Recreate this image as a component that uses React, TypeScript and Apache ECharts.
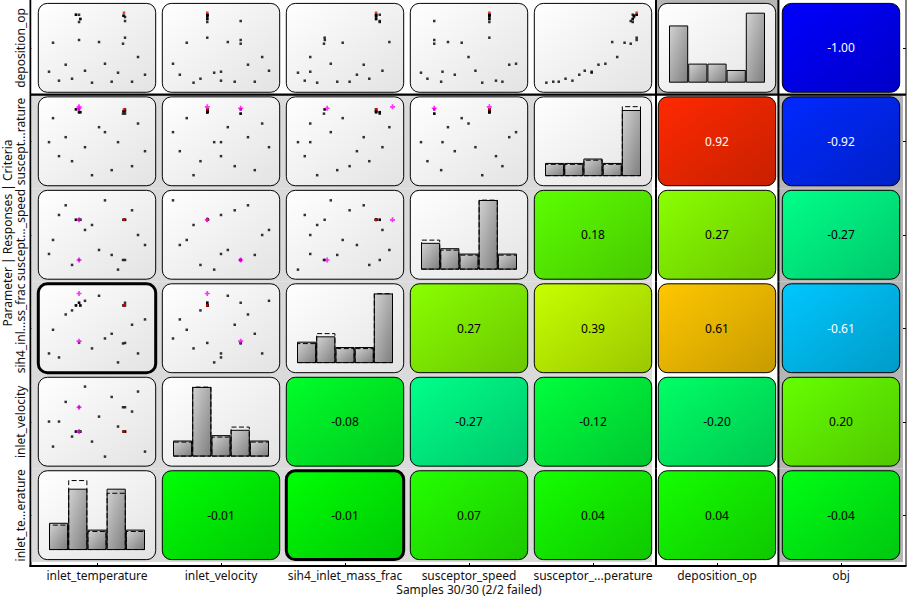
import React, { useEffect, useRef } from 'react';
import * as echarts from 'echarts';

// ---------------- data ----------------
const variableNames = ['inlet_temperature', 'inlet_velocity', 'sih4_inlet_mass_frac', 'susceptor_speed', 'susceptor_temperature', 'deposition_op'];
const columnLabels = ['inlet_temperature', 'inlet_velocity', 'sih4_inlet_mass_frac', 'susceptor_speed', 'susceptor_...perature', 'deposition_op', 'obj'];
const rowLabels = ['inlet_te...erature', 'inlet_velocity', 'sih4_inl...ss_frac', 'suscept..._speed', 'suscept...rature', 'deposition_op']; // bottom -> top
const columnBlocks = ['parameter', 'parameter', 'parameter', 'parameter', 'parameter', 'response', 'criterion'];
const rowBlocks = ['parameter', 'parameter', 'parameter', 'parameter', 'parameter', 'response'];
const xAxisTitle = 'Samples 30/30 (2/2 failed)';
const yAxisTitle = 'Parameter | Responses | Criteria';
const highlightedPair = ['inlet_temperature', 'sih4_inlet_mass_frac'];

// samples, normalised to each variable's axis range (0..1)
const sampleStatus = [
  'ok', 'ok', 'ok', 'ok', 'ok', 'ok', 'ok', 'ok', 'ok', 'ok', 'ok', 'ok', 'ok', 'ok',
  'best', 'ok', 'ok', 'ok', 'ok', 'ok', 'ok', 'ok', 'ok', 'ok', 'ok', 'ok', 'ok', 'ok',
  'failed', 'failed',
];
const inletTemperature = [0.000, 0.042, 0.104, 0.174, 0.240, 0.375, 0.448, 0.521, 0.583, 0.653, 0.719, 0.865, 0.927, 1.000,
  0.781, 0.774, 0.792, 0.792, 0.792, 0.771, 0.281, 0.313, 0.326, 0.313, 0.313, 0.281, 0.326, 0.781, 0.313, 0.313];
const inletVelocity = [0.500, 0.143, 0.500, 0.781, 0.286, 1.000, 0.214, 0.571, 0.000, 0.852, 0.429, 0.643, 0.929, 0.071,
  0.357, 0.357, 0.357, 0.705, 0.357, 0.705, 0.357, 0.357, 0.357, 0.357, 0.705, 0.357, 0.357, 0.357, 0.357, 0.705];
const sih4InletMassFrac = [0.138, 0.476, 0.081, 0.695, 0.753, 0.890, 0.210, 0.962, 0.352, 0.419, 0.010, 0.548, 0.138, 0.624,
  0.824, 0.824, 0.824, 0.862, 0.288, 0.281, 0.824, 0.862, 0.824, 0.862, 0.290, 0.824, 0.824, 0.824, 0.995, 0.314];
const susceptorSpeed = [0.224, 0.424, 0.781, 0.919, 0.067, 0.567, 0.638, 0.281, 0.990, 0.210, 0.000, 0.848, 0.495, 0.352,
  0.712, 0.712, 0.712, 0.138, 0.712, 0.138, 0.712, 0.712, 0.712, 0.712, 0.138, 0.712, 0.712, 0.712, 0.712, 0.138];
const susceptorTemperature = [0.486, 0.829, 0.286, 0.557, 0.214, 0.414, 0.014, 0.700, 0.629, 0.086, 0.486, 0.143, 0.752, 0.357,
  0.955, 0.927, 0.927, 0.893, 0.955, 0.893, 0.955, 0.914, 0.914, 0.914, 0.955, 0.955, 0.914, 0.927, 0.990, 0.970];
const depositionOp = [0.157, 0.571, 0.029, 0.257, 0.057, 0.171, 0.000, 0.581, 0.271, 0.014, 0.143, 0.014, 0.367, 0.114,
  1.000, 0.957, 0.938, 0.881, 0.643, 0.557, 0.971, 0.971, 0.910, 0.867, 0.610, 0.971, 0.910, 0.957, null, null];

// histogram counts (5 bins): successful samples / all samples
const histSuccessful = [
  [4, 9, 3, 9, 3],
  [3, 13, 4, 5, 3],
  [4, 5, 3, 3, 13],
  [5, 4, 3, 13, 3],
  [3, 3, 4, 3, 15],
  [9, 3, 3, 2, 11],
];
const histAll = [
  [4, 11, 3, 9, 3],
  [3, 14, 4, 6, 3],
  [4, 6, 3, 3, 14],
  [6, 4, 3, 14, 3],
  [3, 3, 4, 3, 17],
  null,
];

// correlation coefficients: row variable x column (null = not a correlation cell)
const correlation = [
  [null, -0.01, -0.01, 0.07, 0.04, 0.04, -0.04],
  [null, null, -0.08, -0.27, -0.12, -0.20, 0.20],
  [null, null, null, 0.27, 0.39, 0.61, -0.61],
  [null, null, null, null, 0.18, 0.27, -0.27],
  [null, null, null, null, null, 0.92, -0.92],
  [null, null, null, null, null, null, -1.00],
];

// ---------------- layout ----------------
const FONT = '"Noto Sans", "Open Sans", sans-serif';
const GRID_LEFT = 35;
const GRID_TOP = 1.2;
const COL_W = 124;
const ROW_H = 93.47;
const NCOL = 7;
const NROW = 6;
const PLOT_INSET_X = 14;
const PLOT_INSET_TOP = 11.5;
const PLOT_W = 96;
const PLOT_H = 70;

const sampleValues = [inletTemperature, inletVelocity, sih4InletMassFrac, susceptorSpeed, susceptorTemperature, depositionOp];

function hsvColor(h: number, f: number) {
  const hh = ((h % 360) + 360) % 360 / 60;
  const x = 1 - Math.abs((hh % 2) - 1);
  let r = 0, g = 0, b = 0;
  if (hh < 1) { r = 1; g = x; } else if (hh < 2) { r = x; g = 1; } else if (hh < 3) { g = 1; b = x; }
  else if (hh < 4) { g = x; b = 1; } else if (hh < 5) { r = x; b = 1; } else { r = 1; b = x; }
  return [Math.round(r * 255 * f), Math.round(g * 255 * f), Math.round(b * 255 * f)];
}
const rgb = (c: number[]) => `rgb(${c[0]},${c[1]},${c[2]})`;

function corrStyle(v: number) {
  const hue = 120 - 120 * v;
  const top = hsvColor(hue, 1);
  const bottom = hsvColor(hue, 0.78);
  const lum = 0.299 * top[0] + 0.587 * top[1] + 0.114 * top[2];
  return {
    fill: new echarts.graphic.LinearGradient(0, 0, 1, 1, [
      { offset: 0, color: rgb(top) },
      { offset: 1, color: rgb(bottom) },
    ]),
    text: lum < 150 ? '#ffffff' : '#000000',
  };
}

function blockBg(rowBlock: string, colBlock: string) {
  if (rowBlock === 'parameter') {
    if (colBlock === 'parameter') return '#dadada';
    if (colBlock === 'response') return '#ffffff';
    return '#b5b5b5';
  }
  if (colBlock === 'response') return '#b5b5b5';
  return '#ffffff';
}

function buildOption() {
  type Cell = { row: number; col: number; kind: string; r: number | null; highlighted: boolean };
  const cells: Cell[] = [];
  for (let i = 0; i < NROW; i++) {
    for (let j = 0; j < NCOL; j++) {
      const kind = j < i ? 'scatter' : j === i ? 'hist' : 'corr';
      const rowName = variableNames[i];
      const colName = variableNames[j];
      const highlighted =
        (rowName === highlightedPair[0] && colName === highlightedPair[1]) ||
        (rowName === highlightedPair[1] && colName === highlightedPair[0]);
      cells.push({ row: i, col: j, kind, r: correlation[i][j], highlighted });
    }
  }

  const grids: any[] = [{
    left: GRID_LEFT, top: GRID_TOP, width: COL_W * NCOL, height: ROW_H * NROW,
    containLabel: false, outerBoundsMode: 'none',
  }];
  const xAxes: any[] = [{
    type: 'category', gridIndex: 0, data: columnLabels, position: 'bottom', offset: 4,
    axisLine: { show: false },
    axisTick: { show: true, alignWithLabel: true, inside: true, length: 3, interval: 0, lineStyle: { color: '#000', width: 1 } },
    axisLabel: { interval: 0, margin: 3, fontSize: 12, lineHeight: 12, color: '#111', fontFamily: FONT },
    splitLine: { show: false },
    name: xAxisTitle, nameLocation: 'middle', nameGap: 17.5, nameMoveOverlap: false,
    nameTextStyle: { fontSize: 12, lineHeight: 12, color: '#111', fontFamily: FONT },
  }];
  const yAxes: any[] = [
    {
      type: 'category', gridIndex: 0, data: rowLabels, position: 'left', offset: 4.5,
      axisLine: { show: false },
      axisTick: { show: true, alignWithLabel: true, inside: true, length: 3, interval: 0, lineStyle: { color: '#000', width: 1 } },
      axisLabel: { interval: 0, rotate: 90, margin: 3, fontSize: 12, lineHeight: 14, color: '#111', fontFamily: FONT },
      splitLine: { show: false },
    },
    {
      type: 'category', gridIndex: 0, data: rowLabels, position: 'right', offset: 3,
      axisLine: { show: false },
      axisTick: { show: true, alignWithLabel: true, inside: true, length: 4, interval: 0, lineStyle: { color: '#000', width: 1 } },
      axisLabel: { show: false },
      splitLine: { show: false },
    },
  ];

  const series: any[] = [];

  // cell backgrounds, dividers, panels, correlation values
  series.push({
    type: 'custom',
    coordinateSystem: 'cartesian2d',
    xAxisIndex: 0,
    yAxisIndex: 0,
    z: 1,
    silent: true,
    clip: false,
    encode: { x: 0, y: 1 },
    data: cells.map((c) => [c.col, c.row]),
    renderItem: (params: any, api: any) => {
      const cell = cells[params.dataIndex];
      const center = api.coord([api.value(0), api.value(1)]);
      const size = api.size([1, 1]);
      const w = size[0], h = size[1];
      const x0 = center[0] - w / 2, y0 = center[1] - h / 2;
      const rb = rowBlocks[cell.row], cb = columnBlocks[cell.col];
      const children: any[] = [];

      let bx = x0, bw = w, by = y0, bh = h;
      if (cell.col === 0) { bx -= 3.5; bw += 3.5; }
      if (rb === 'parameter' && cb === 'parameter' && columnBlocks[cell.col + 1] !== 'parameter') bw -= 3;
      if (cell.row === NROW - 1) { by -= GRID_TOP; bh += GRID_TOP; }
      children.push({ type: 'rect', z2: 0, shape: { x: bx, y: by, width: bw, height: bh }, style: { fill: blockBg(rb, cb) } });

      if (cell.col > 0 && columnBlocks[cell.col - 1] !== cb) {
        const lx = cb === 'response' ? x0 + 1 : x0 - 0.6;
        const ly1 = cell.row === NROW - 1 ? y0 - GRID_TOP : y0;
        const ly2 = cell.row === 0 ? y0 + h + 3.5 : y0 + h;
        children.push({ type: 'line', z2: 6, shape: { x1: lx, y1: ly1, x2: lx, y2: ly2 }, style: { stroke: '#000', lineWidth: 2 } });
      }
      if (cell.row > 0 && rowBlocks[cell.row - 1] !== rb) {
        const ly = y0 + h;
        const lx1 = cell.col === 0 ? x0 - 4.5 : x0;
        const lx2 = cell.col === NCOL - 1 ? x0 + w + 3 : x0 + w;
        children.push({ type: 'line', z2: 6, shape: { x1: lx1, y1: ly, x2: lx2, y2: ly }, style: { stroke: '#000', lineWidth: 2.4 } });
      }

      const px = x0 + 3.3, py = y0 + 2.2, pw = w - 6.6, ph = h - 4.6;
      let fill: any;
      let textColor = '#000';
      if (cell.kind === 'corr' && cell.r !== null) {
        const s = corrStyle(cell.r);
        fill = s.fill;
        textColor = s.text;
      } else {
        fill = new echarts.graphic.LinearGradient(0, 0, 1, 1, [
          { offset: 0, color: '#ffffff' },
          { offset: 1, color: '#e3e3e3' },
        ]);
      }
      children.push({
        type: 'rect', z2: 3,
        shape: { x: px, y: py, width: pw, height: ph, r: 9 },
        style: { fill, stroke: '#000', lineWidth: cell.highlighted ? 3 : 1 },
      });
      if (cell.kind === 'corr' && cell.r !== null) {
        children.push({
          type: 'text', z2: 4,
          style: {
            text: cell.r.toFixed(2), x: center[0], y: center[1],
            align: 'center', verticalAlign: 'middle',
            fill: textColor, font: `12px ${FONT}`,
          },
        });
      }
      return { type: 'group', children };
    },
  });

  // scatter and histogram cells, each with its own grid and axes
  const plus = 'path://M2,0H4V2H6V4H4V6H2V4H0V2H2Z';
  let g = 0;
  cells.forEach((cell) => {
    if (cell.kind === 'corr') return;
    g += 1;
    const x0 = GRID_LEFT + cell.col * COL_W;
    const y0 = GRID_TOP + (NROW - 1 - cell.row) * ROW_H;
    grids.push({
      left: x0 + PLOT_INSET_X, top: y0 + PLOT_INSET_TOP, width: PLOT_W, height: PLOT_H,
      containLabel: false, outerBoundsMode: 'none',
    });
    const yIdx = g + 1;
    if (cell.kind === 'scatter') {
      xAxes.push({ type: 'value', gridIndex: g, min: 0, max: 1, show: false });
      yAxes.push({ type: 'value', gridIndex: g, min: 0, max: 1, show: false });
      const xs = sampleValues[cell.col];
      const ys = sampleValues[cell.row];
      const pick = (status: string) => {
        const out: number[][] = [];
        sampleStatus.forEach((st, k) => {
          if (st === status && xs[k] !== null && ys[k] !== null) out.push([xs[k] as number, ys[k] as number]);
        });
        return out;
      };
      series.push({
        type: 'scatter', xAxisIndex: g, yAxisIndex: yIdx, silent: true, clip: false,
        symbol: 'rect', symbolSize: 2.5, itemStyle: { color: '#000' }, data: pick('ok'),
      });
      series.push({
        type: 'scatter', xAxisIndex: g, yAxisIndex: yIdx, silent: true, clip: false,
        symbol: 'rect', symbolSize: 2.5, itemStyle: { color: '#ff0000' }, data: pick('best'),
      });
      series.push({
        type: 'scatter', xAxisIndex: g, yAxisIndex: yIdx, silent: true, clip: false,
        symbol: plus, symbolSize: 5, itemStyle: { color: '#ff00ff' }, data: pick('failed'),
      });
    } else {
      const ok = histSuccessful[cell.row];
      const all = histAll[cell.row];
      const okTotal = ok.reduce((a, b) => a + b, 0);
      const scaled = all ? all.map((v) => (v * okTotal) / all.reduce((a, b) => a + b, 0)) : null;
      const hmax = Math.max(...ok, ...(scaled || [0]));
      xAxes.push({ type: 'category', gridIndex: g, data: ['1', '2', '3', '4', '5'], show: false, boundaryGap: true });
      yAxes.push({ type: 'value', gridIndex: g, min: 0, max: hmax, show: false });
      series.push({
        type: 'bar', xAxisIndex: g, yAxisIndex: yIdx, silent: true,
        barCategoryGap: '0%', barGap: '-100%',
        itemStyle: {
          color: new echarts.graphic.LinearGradient(0, 0, 1, 1, [
            { offset: 0, color: '#d2d2d2' },
            { offset: 1, color: '#7e7e7e' },
          ]),
          borderColor: '#000', borderWidth: 1,
        },
        data: ok,
      });
      if (scaled) {
        series.push({
          type: 'bar', xAxisIndex: g, yAxisIndex: yIdx, silent: true,
          barCategoryGap: '0%', barGap: '-100%',
          itemStyle: { color: 'rgba(0,0,0,0)', borderColor: '#000', borderWidth: 1, borderType: [5, 2.5] },
          data: scaled,
        });
      }
    }
  });

  const frameLeft = GRID_LEFT - 4.5;
  const frameBottom = GRID_TOP + ROW_H * NROW + 4;
  const frameRight = GRID_LEFT + COL_W * NCOL + 3;

  return {
    animation: false,
    textStyle: { fontFamily: FONT },
    grid: grids,
    xAxis: xAxes,
    yAxis: yAxes,
    series,
    graphic: [
      { type: 'line', silent: true, shape: { x1: frameLeft, y1: 0, x2: frameLeft, y2: frameBottom + 1 }, style: { stroke: '#000', lineWidth: 2 } },
      { type: 'line', silent: true, shape: { x1: frameLeft - 1, y1: frameBottom, x2: frameRight + 0.5, y2: frameBottom }, style: { stroke: '#000', lineWidth: 2 } },
      { type: 'line', silent: true, shape: { x1: frameRight, y1: 0, x2: frameRight, y2: frameBottom }, style: { stroke: '#000', lineWidth: 1 } },
      {
        type: 'text', silent: true, x: 1, y: 233, rotation: Math.PI / 2,
        style: { text: yAxisTitle, align: 'center', verticalAlign: 'top', font: `12px ${FONT}`, lineHeight: 12, fill: '#111' },
      },
    ],
  };
}

export default function App() {
  const ref = useRef<HTMLDivElement>(null);
  useEffect(() => {
    document.body.style.margin = '0';
    const chart = echarts.init(ref.current!, null, { renderer: 'svg' });
    chart.setOption(buildOption() as any);
    return () => chart.dispose();
  }, []);
  return <div ref={ref} style={{ position: 'fixed', left: 0, top: 0, width: 908, height: 597, background: '#fff' }} />;
}
